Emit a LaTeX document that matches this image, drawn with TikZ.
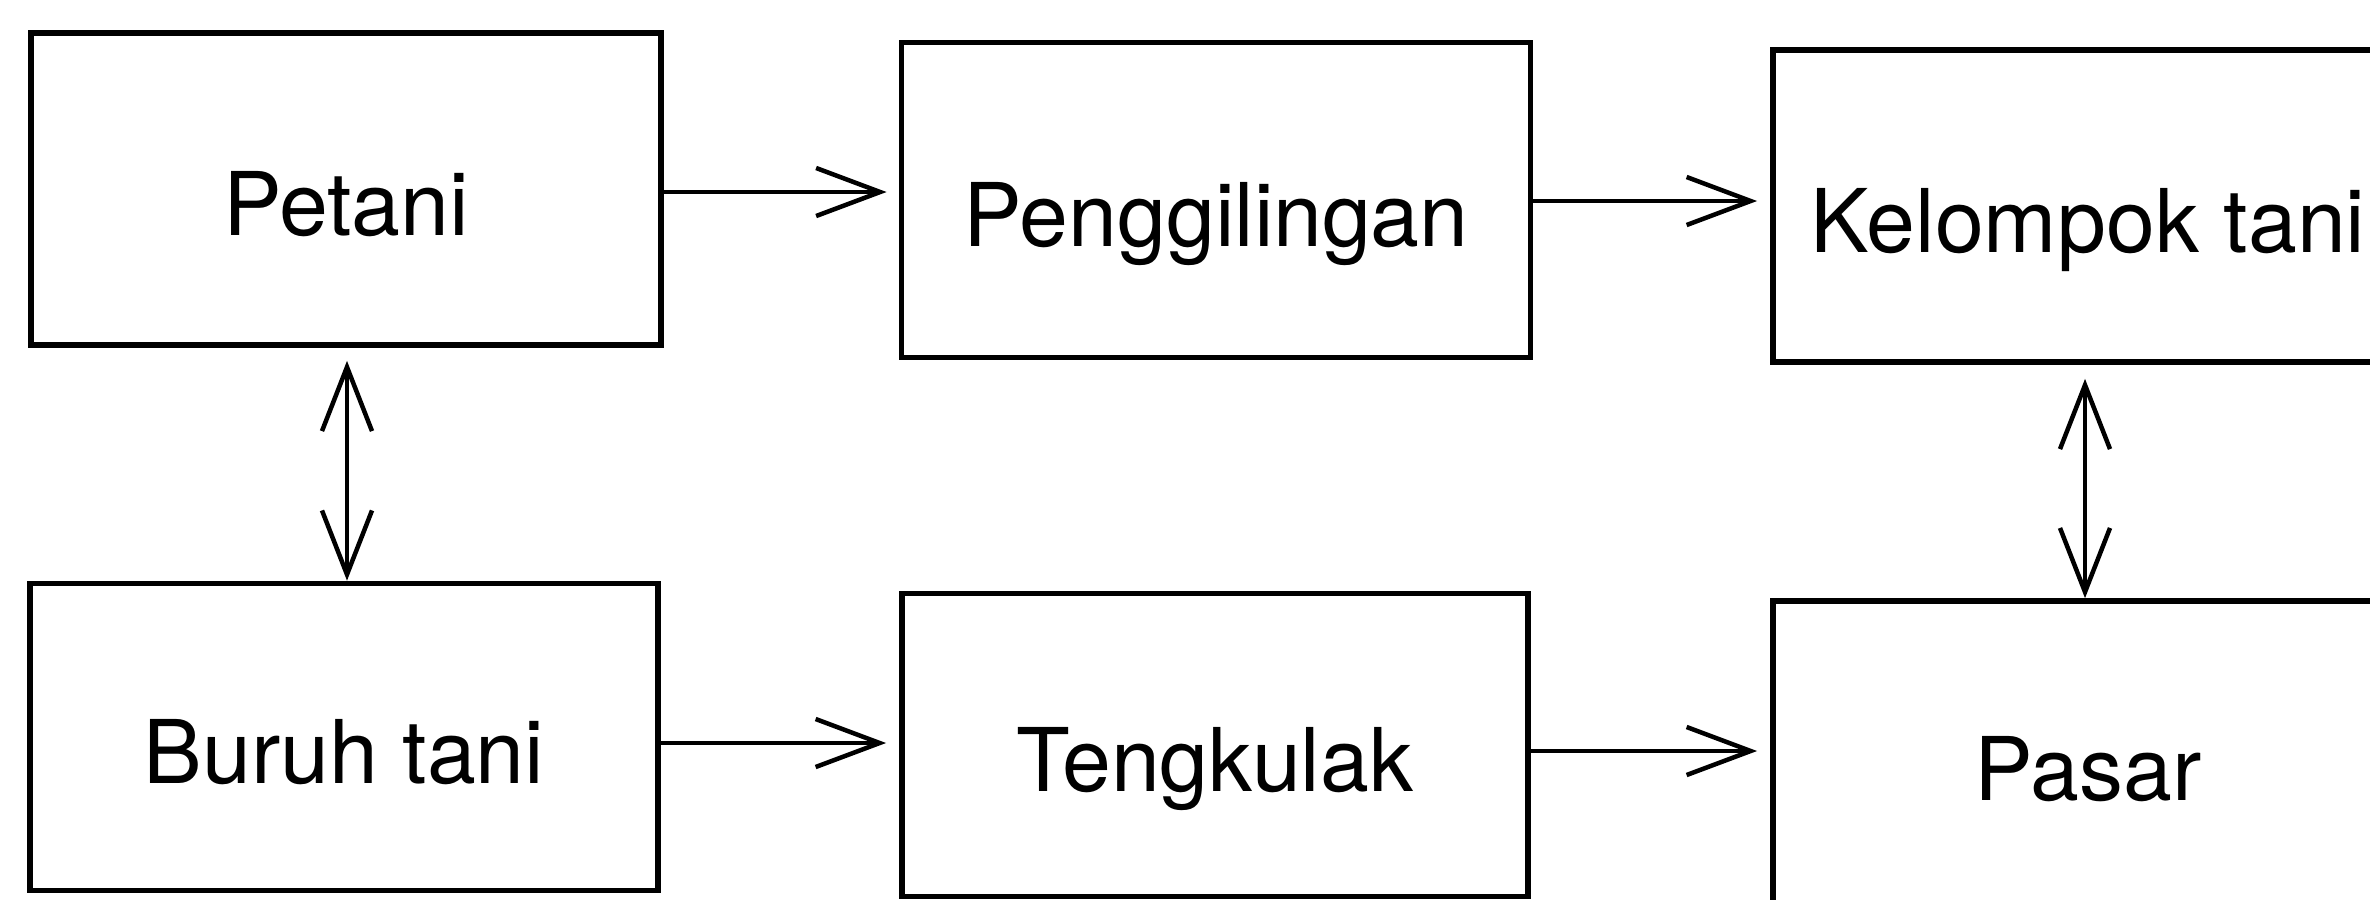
\documentclass[tikz,border=0pt]{standalone}
\usepackage{fontspec}
\setmainfont{TeX Gyre Heros}
\usetikzlibrary{arrows.meta}
\tikzset{
  flowbox/.style={draw, line width=0.055cm, rectangle, inner sep=0pt,
    font=\fontsize{25}{29}\selectfont, text height=0.93cm, text depth=0cm},
  arr/.style={line width=0.045cm, -{Straight Barb[length=0.64cm, width=0.48cm, line width=0.045cm]}},
  darr/.style={line width=0.045cm, {Straight Barb[length=0.64cm, width=0.5cm, line width=0.045cm]}-{Straight Barb[length=0.64cm, width=0.5cm, line width=0.045cm]}}
}
\begin{document}
\begin{tikzpicture}[x=0.01cm, y=-0.01cm]
\useasboundingbox (0,0) rectangle (2370,899);
\clip (0,0) rectangle (2370,899);
\node[flowbox, minimum width=6.30cm, minimum height=3.12cm] (petani) at (346,189) {Petani};
\node[flowbox, minimum width=6.29cm, minimum height=3.15cm] (pengg) at (1216,200) {Penggilingan};
\node[flowbox, minimum width=6.30cm, minimum height=3.12cm] (kelompok) at (2088,206) {Kelompok tani};
\node[flowbox, minimum width=6.28cm, minimum height=3.07cm] (buruh) at (344,737) {Buruh tani};
\node[flowbox, minimum width=6.26cm, minimum height=3.03cm] (tengkulak) at (1215,745) {Tengkulak};
\node[flowbox, minimum width=6.30cm, minimum height=3.06cm] (pasar) at (2088,754) {Pasar};
\draw[arr] (petani.east |- 0,192) -- ([xshift=-0.12cm]pengg.west |- 0,192);
\draw[arr] (pengg.east |- 0,201) -- ([xshift=-0.13cm]kelompok.west |- 0,201);
\draw[arr] (buruh.east |- 0,743) -- ([xshift=-0.13cm]tengkulak.west |- 0,743);
\draw[arr] (tengkulak.east |- 0,751) -- ([xshift=-0.13cm]pasar.west |- 0,751);
\draw[darr] ([yshift=-0.13cm]petani.south -| 347,0) -- (buruh.north -| 347,0);
\draw[darr] ([yshift=-0.14cm]kelompok.south -| 2085,0) -- (pasar.north -| 2085,0);
\end{tikzpicture}
\end{document}
